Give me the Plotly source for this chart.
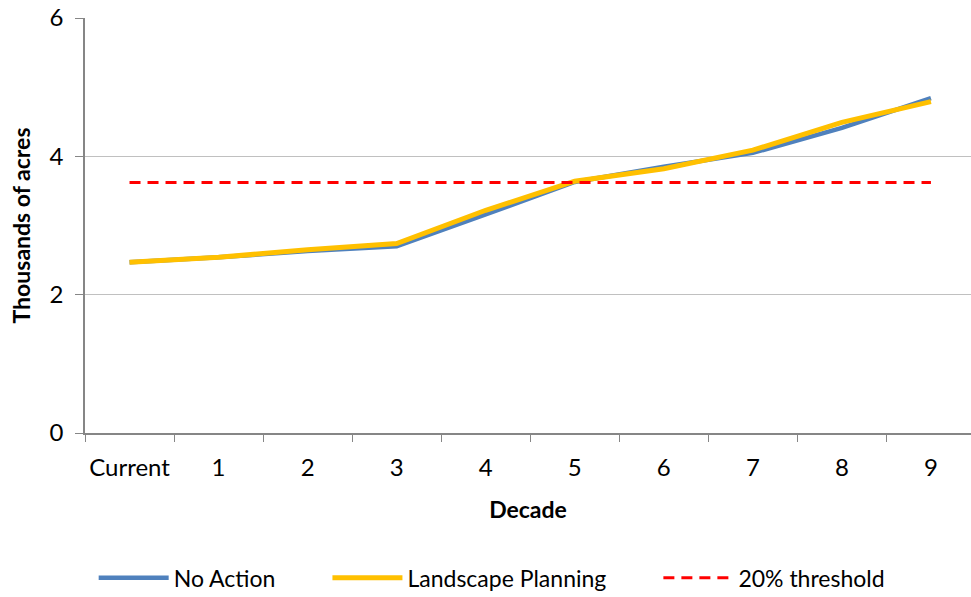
import plotly.graph_objects as go

decades = ["Current", "1", "2", "3", "4", "5", "6", "7", "8", "9"]
no_action = [2.47, 2.54, 2.63, 2.70, 3.16, 3.63, 3.85, 4.05, 4.41, 4.84]
landscape = [2.47, 2.54, 2.65, 2.74, 3.22, 3.64, 3.82, 4.09, 4.49, 4.79]
threshold = [3.62] * 10
series_names = ["No Action", "Landscape Planning", "20% threshold"]

FONT = "Lato"
SZ = 24
pad = "&nbsp;" * 8
fig = go.Figure()
fig.add_trace(go.Scatter(x=decades, y=no_action, mode="lines", name=series_names[0] + pad,
                         line=dict(color="#4F81BD", width=4.5)))
fig.add_trace(go.Scatter(x=decades, y=landscape, mode="lines", name=series_names[1] + pad,
                         line=dict(color="#FFC000", width=5)))
fig.add_trace(go.Scatter(x=decades, y=threshold, mode="lines", name=series_names[2],
                         line=dict(color="#FF0000", width=3, dash="11px,7px")))

fig.update_layout(
    width=971, height=597,
    margin=dict(l=85, r=0, t=18, b=164, autoexpand=False),
    paper_bgcolor="white", plot_bgcolor="white",
    font=dict(family=FONT, size=SZ, color="black"),
    showlegend=True,
    legend=dict(orientation="h", x=0.459, xanchor="center", y=-0.297, yanchor="top",
                font=dict(size=SZ - 1), itemwidth=70, traceorder="normal"),
    xaxis=dict(
        type="category", range=[-0.5, 9.45], showgrid=False, automargin=False,
        showline=True, linecolor="#868686", linewidth=1.5, tickangle=0,
        ticks="outside", tickson="boundaries", ticklen=7, tickcolor="#868686",
        ticklabelstandoff=12,
        title=dict(text="<b>Decade</b>", font=dict(size=SZ - 1), standoff=22),
    ),
    yaxis=dict(
        range=[0, 6], tickvals=[0, 2, 4, 6], showgrid=True, gridcolor="#C0C0C0", gridwidth=1,
        showline=True, linecolor="#868686", linewidth=1.5, automargin=False,
        ticks="outside", ticklen=8, tickcolor="#868686", zeroline=False,
        ticklabelstandoff=7,
        title=dict(text="<b>Thousands of acres</b>", font=dict(size=SZ - 1), standoff=12),
    ),
)
fig.write_html("out.html", config={"displayModeBar": False},
               post_script="document.body.style.margin='0px';")
